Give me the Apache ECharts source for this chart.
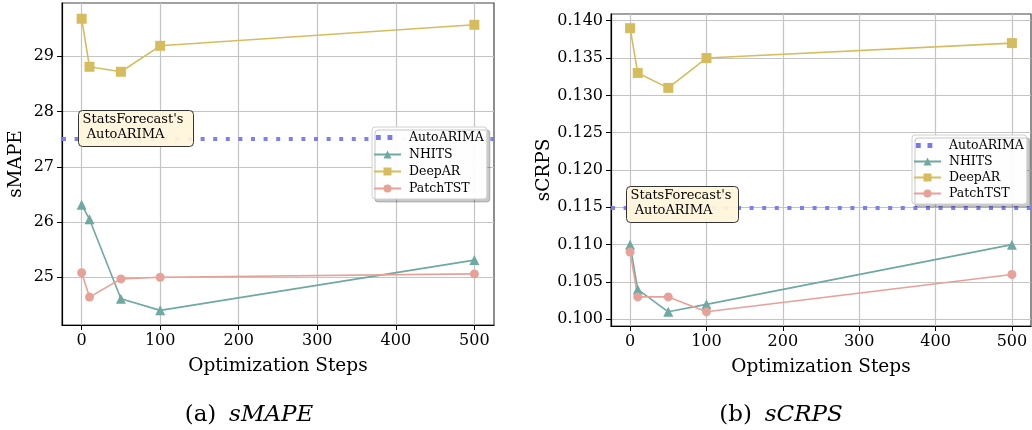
<!DOCTYPE html>
<html>
<head>
<meta charset="utf-8">
<script src="https://cdn.jsdelivr.net/npm/echarts@6/dist/echarts.min.js"></script>
<style>
html,body{margin:0;padding:0;background:#fff;}
#chart{width:1032px;height:430px;}
</style>
</head>
<body>
<div id="chart"></div>
<script>
// ---- data ----
const steps = [0, 10, 50, 100, 500];
const seriesNames = ['AutoARIMA', 'NHITS', 'DeepAR', 'PatchTST'];
const smapeNHITS = [26.31, 26.05, 24.61, 24.40, 25.31];
const smapeDeepAR = [29.68, 28.81, 28.72, 29.19, 29.57];
const smapePatchTST = [25.08, 24.64, 24.97, 25.00, 25.06];
const smapeAutoARIMA = 27.5;
const scrpsNHITS = [0.110, 0.104, 0.101, 0.102, 0.110];
const scrpsDeepAR = [0.139, 0.133, 0.131, 0.135, 0.137];
const scrpsPatchTST = [0.109, 0.103, 0.103, 0.101, 0.106];
const scrpsAutoARIMA = 0.115;
const xTicks = [0, 100, 200, 300, 400, 500];
const smapeTicks = [25, 26, 27, 28, 29];
const scrpsTicks = [0.100, 0.105, 0.110, 0.115, 0.120, 0.125, 0.130, 0.135, 0.140];
const xLabel = 'Optimization Steps';
const annotationText = "StatsForecast's\n AutoARIMA";

// ---- style ----
const FONT = 'DejaVu Serif';
const C = {AutoARIMA: '#7878f4', NHITS: '#6ea9a2', DeepAR: '#d7bc5e', PatchTST: '#e7a198'};
const SYM = {NHITS: 'triangle', DeepAR: 'rect', PatchTST: 'circle'};
const SYMSIZE = {NHITS: 10, DeepAR: 10, PatchTST: 9};
const DOTS_ICON = 'path://M0,0 M28,10 M2,2.5h5v5h-5z M14,2.5h5v5h-5z';

function pairs(xs, ys) { return xs.map((x, i) => [x, ys[i]]); }

function xAxisCfg(gi) {
  return {
    type: 'value', gridIndex: gi, min: -25, max: 525,
    name: xLabel, nameLocation: 'middle', nameGap: 32,
    nameTextStyle: {fontFamily: FONT, fontSize: 18.5, color: '#000'},
    axisLine: {show: true, onZero: false, lineStyle: {color: '#000', width: 1.2}},
    axisTick: {show: true, customValues: xTicks, length: 5, lineStyle: {color: '#000', width: 1}},
    axisLabel: {customValues: xTicks, margin: 8, fontFamily: FONT, fontSize: 16, color: '#000'},
    splitLine: {show: true, lineStyle: {color: '#c4c4c4', width: 1.2}}
  };
}
function yAxisCfg(gi, min, max, ticks, name, fmt, gap) {
  return {
    type: 'value', gridIndex: gi, min: min, max: max,
    name: name, nameLocation: 'middle', nameGap: gap, nameRotate: 90,
    nameTextStyle: {fontFamily: FONT, fontSize: 18.5, color: '#000'},
    axisLine: {show: true, onZero: false, lineStyle: {color: '#000', width: 1.2}},
    axisTick: {show: true, customValues: ticks, length: 5, lineStyle: {color: '#000', width: 1}},
    axisLabel: {customValues: ticks, margin: 8, fontFamily: FONT, fontSize: 16, color: '#000', formatter: fmt},
    splitLine: {show: true, lineStyle: {color: '#c4c4c4', width: 1.2}}
  };
}

function buildSeries(gi, nhits, deepar, patch, arima) {
  const s = [];
  s.push({
    name: 'AutoARIMA', type: 'line', xAxisIndex: gi, yAxisIndex: gi, data: [],
    symbol: 'none', lineStyle: {color: C.AutoARIMA, width: 4, type: [4, 8.6]},
    itemStyle: {color: C.AutoARIMA},
    markLine: {silent: true, symbol: 'none', precision: 6, label: {show: false},
      lineStyle: {color: C.AutoARIMA, width: 4, type: [4, 8.6], opacity: 0.95},
      data: [{yAxis: arima}], animation: false}
  });
  const d = {NHITS: nhits, DeepAR: deepar, PatchTST: patch};
  ['NHITS', 'DeepAR', 'PatchTST'].forEach(n => {
    s.push({
      name: n, type: 'line', xAxisIndex: gi, yAxisIndex: gi, data: pairs(steps, d[n]),
      symbol: SYM[n], symbolSize: SYMSIZE[n], showAllSymbol: true,
      lineStyle: {color: C[n], width: 1.6}, itemStyle: {color: C[n]}
    });
  });
  return s;
}

function legendCfg(left, top, gap) {
  return {
    orient: 'vertical', left: left, top: top, z: 50,
    data: seriesNames.map(n => n === 'AutoARIMA'
      ? {name: n, icon: DOTS_ICON, itemStyle: {color: C.AutoARIMA}}
      : {name: n}),
    symbolKeepAspect: true,
    itemWidth: 27, itemHeight: 10, itemGap: gap,
    padding: [4, 3, 4, 1],
    backgroundColor: 'rgba(255,255,255,0.97)', borderColor: '#d0d0d0', borderWidth: 1, borderRadius: 3,
    shadowColor: 'rgba(0,0,0,0.22)', shadowOffsetX: 3, shadowOffsetY: 3, shadowBlur: 0,
    textStyle: {fontFamily: FONT, fontSize: 12.5, color: '#000', padding: [0, 0, 0, 3]},
    selectedMode: false
  };
}

function annotation(x, y, w, h) {
  return {
    type: 'group', left: x, top: y, z: 100, zlevel: 0,
    children: [
      {type: 'rect', z: 100, shape: {x: 0, y: 0, width: w, height: h, r: 4},
        style: {fill: 'rgba(255,245,218,0.93)', stroke: '#333', lineWidth: 1}},
      {type: 'text', z: 101, left: 4, top: 2,
        style: {text: annotationText, fontFamily: FONT, fontSize: 13, lineHeight: 15, fill: '#000'}}
    ]
  };
}

const capRich = {
  n: {fontFamily: FONT, fontSize: 23, fontWeight: 'normal', color: '#000'},
  i: {fontFamily: FONT, fontSize: 23, fontWeight: 'normal', fontStyle: 'italic', color: '#000'}
};

const chart = echarts.init(document.getElementById('chart'), null, {renderer: 'canvas'});
chart.setOption({
  animation: false,
  backgroundColor: '#fff',
  grid: [
    {left: 62, top: 3, width: 432, height: 322, show: true, borderColor: '#444', borderWidth: 1.2, containLabel: false},
    {left: 611, top: 14, width: 420, height: 312, show: true, borderColor: '#444', borderWidth: 1.2, containLabel: false}
  ],
  xAxis: [xAxisCfg(0), xAxisCfg(1)],
  yAxis: [
    yAxisCfg(0, 24.135, 29.965, smapeTicks, 'sMAPE', v => String(v), 36),
    yAxisCfg(1, 0.0991, 0.1409, scrpsTicks, 'sCRPS', v => v.toFixed(3), 55)
  ],
  legend: [legendCfg(372, 127, 4), legendCfg(912, 135, 3)],
  series: [].concat(
    buildSeries(0, smapeNHITS, smapeDeepAR, smapePatchTST, smapeAutoARIMA),
    buildSeries(1, scrpsNHITS, scrpsDeepAR, scrpsPatchTST, scrpsAutoARIMA)
  ),
  title: [
    {text: '{n|(a)}  {i|sMAPE}', left: 244, top: 399, textAlign: 'center',
      textStyle: {fontWeight: 'normal', fontSize: 23, rich: capRich}},
    {text: '{n|(b)}  {i|sCRPS}', left: 776, top: 399, textAlign: 'center',
      textStyle: {fontWeight: 'normal', fontSize: 23, rich: capRich}}
  ],
  graphic: [annotation(78, 110, 115, 36), annotation(626, 186, 112, 36)]
});
</script>
</body>
</html>
